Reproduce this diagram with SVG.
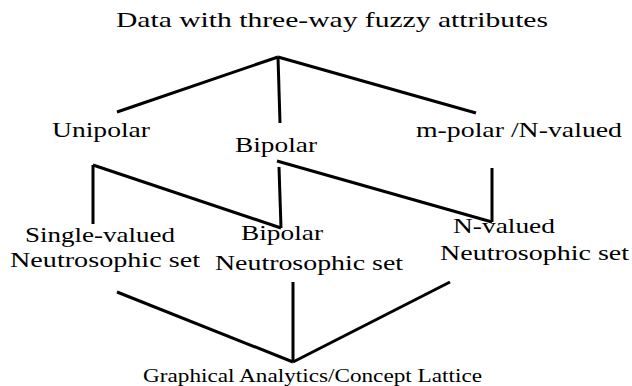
<svg xmlns="http://www.w3.org/2000/svg" width="632" height="386" viewBox="0 0 632 386">
<style>
text{font-family:"Liberation Serif","Times New Roman",serif;font-size:22px;fill:#000}
.sm{font-size:19px}
#connectors line{stroke:#000;stroke-width:3;stroke-linecap:butt}
</style>
<rect width="632" height="386" fill="#fff"/>
<g id="connectors">
<line x1="278" y1="57" x2="117" y2="112"/>
<line x1="278" y1="57" x2="280" y2="123"/>
<line x1="278" y1="57" x2="476" y2="113"/>
<line x1="93" y1="165" x2="93" y2="224"/>
<line x1="93" y1="165" x2="281" y2="228"/>
<line x1="279" y1="167" x2="281" y2="228"/>
<line x1="277" y1="161" x2="492" y2="222"/>
<line x1="492" y1="168" x2="492" y2="222"/>
<line x1="117" y1="292" x2="293" y2="362"/>
<line x1="293" y1="282" x2="293" y2="362"/>
<line x1="450" y1="282" x2="293" y2="362"/>
</g>
<g id="title"><text x="116" y="27" textLength="432" lengthAdjust="spacingAndGlyphs">Data with three-way fuzzy attributes</text></g>
<g id="unipolar"><text x="52" y="137" textLength="98" lengthAdjust="spacingAndGlyphs">Unipolar</text></g>
<g id="bipolar"><text x="235" y="152" textLength="82" lengthAdjust="spacingAndGlyphs">Bipolar</text></g>
<g id="mpolar"><text x="416" y="137" textLength="206" lengthAdjust="spacingAndGlyphs">m-polar /N-valued</text></g>
<g id="svns"><text x="25" y="242" textLength="150" lengthAdjust="spacingAndGlyphs">Single-valued</text><text x="10" y="267" textLength="190" lengthAdjust="spacingAndGlyphs">Neutrosophic set</text></g>
<g id="bns"><text x="241" y="240" textLength="82" lengthAdjust="spacingAndGlyphs">Bipolar</text><text x="215" y="270" textLength="188" lengthAdjust="spacingAndGlyphs">Neutrosophic set</text></g>
<g id="nvns"><text x="453" y="233" textLength="102" lengthAdjust="spacingAndGlyphs">N-valued</text><text x="440" y="260" textLength="189" lengthAdjust="spacingAndGlyphs">Neutrosophic set</text></g>
<g id="lattice"><text class="sm" x="143" y="382" textLength="339" lengthAdjust="spacingAndGlyphs">Graphical Analytics/Concept Lattice</text></g>
</svg>
